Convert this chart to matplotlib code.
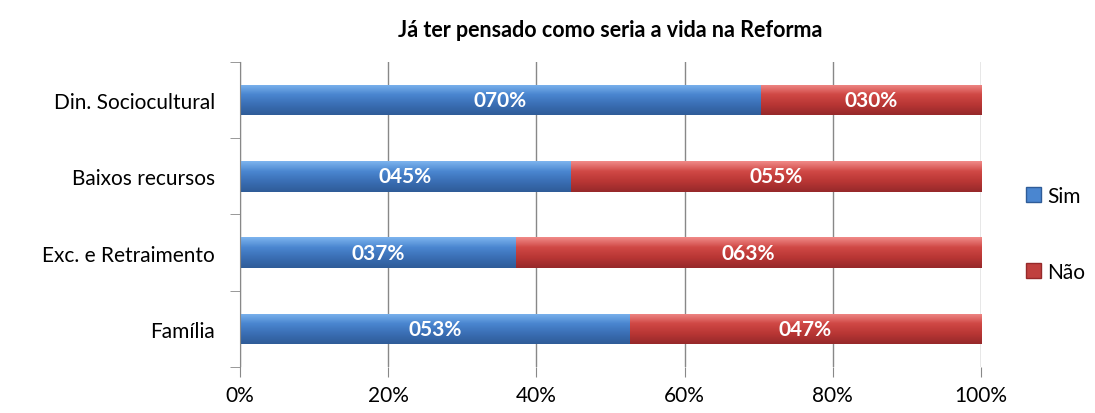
import matplotlib
matplotlib.use("Agg")
import matplotlib.pyplot as plt
import numpy as np
from matplotlib.colors import LinearSegmentedColormap
from matplotlib.patches import Patch

plt.rcParams['font.family'] = ['Lato', 'DejaVu Sans']

categories = ["Família", "Exc. e Retraimento", "Baixos recursos", "Din. Sociocultural"]
sim = [52.6, 37.2, 44.6, 70.3]
nao = [47.4, 62.8, 55.4, 29.7]
series_names = ["Sim", "Não"]
x_ticks = [0, 20, 40, 60, 80, 100]
title = "Já ter pensado como seria a vida na Reforma"

blue_cmap = LinearSegmentedColormap.from_list("b", ["#7db4ee", "#4a86d0", "#3a6eb4", "#2f5c98"])
red_cmap = LinearSegmentedColormap.from_list("r", ["#f08a88", "#d04845", "#b83634", "#96292a"])

fig = plt.figure(figsize=(10.95, 4.14), dpi=100)
ax = fig.add_axes([0.2192, 0.111, 0.6767, 0.737])

y = np.arange(len(categories))
bar_h = 0.4
grad = np.linspace(0, 1, 64).reshape(-1, 1)


def gradient_bars(bars, cmap):
    for b in bars:
        x0, y0 = b.get_x(), b.get_y()
        w, h = b.get_width(), b.get_height()
        im = ax.imshow(grad, cmap=cmap, aspect='auto', extent=(x0, x0 + w, y0, y0 + h),
                       origin='upper', zorder=2.5, interpolation='bilinear')
        im.set_clip_path(b)


b1 = ax.barh(y, sim, height=bar_h, color="#4a86d0", zorder=2, edgecolor="none")
b2 = ax.barh(y, nao, left=sim, height=bar_h, color="#c0403e", zorder=2, edgecolor="none")
gradient_bars(b1, blue_cmap)
gradient_bars(b2, red_cmap)

for i in range(len(categories)):
    ax.text(sim[i] / 2, y[i], f"{round(sim[i]):03d}%", ha='center', va='center',
            color='white', fontsize=15, fontweight='bold', zorder=4)
    ax.text(sim[i] + nao[i] / 2, y[i], f"{round(nao[i]):03d}%", ha='center', va='center',
            color='white', fontsize=15, fontweight='bold', zorder=4)

ax.set_xlim(0, 100)
ax.set_ylim(-0.5, len(categories) - 0.5)
ax.set_xticks(x_ticks)
ax.set_xticklabels([f"{t}%" for t in x_ticks], fontsize=15)
ax.set_yticks(y)
ax.set_yticklabels(categories, fontsize=15)
ax.tick_params(axis='y', length=0, pad=18)
ax.tick_params(axis='x', length=7, color='#888888', pad=6)
ax.set_yticks(np.arange(-0.5, len(categories)), minor=True)
ax.tick_params(axis='y', which='minor', length=7, color='#888888')
ax.grid(axis='x', color='#888888', linewidth=1, zorder=0)
for s in ['top', 'right', 'bottom']:
    ax.spines[s].set_visible(False)
ax.spines['left'].set_color('#888888')

ax.set_title(title, fontsize=15.5, fontweight='bold', pad=19)

handles = [Patch(facecolor="#4a86d0", edgecolor="#2f5c98"),
           Patch(facecolor="#c0403e", edgecolor="#96292a")]
fig.legend(handles, series_names, loc='center left', bbox_to_anchor=(0.92, 0.433),
           frameon=False, fontsize=15, handlelength=0.7, handleheight=0.7,
           handletextpad=0.3, labelspacing=2.7)

fig.savefig("out.png", dpi=100)
